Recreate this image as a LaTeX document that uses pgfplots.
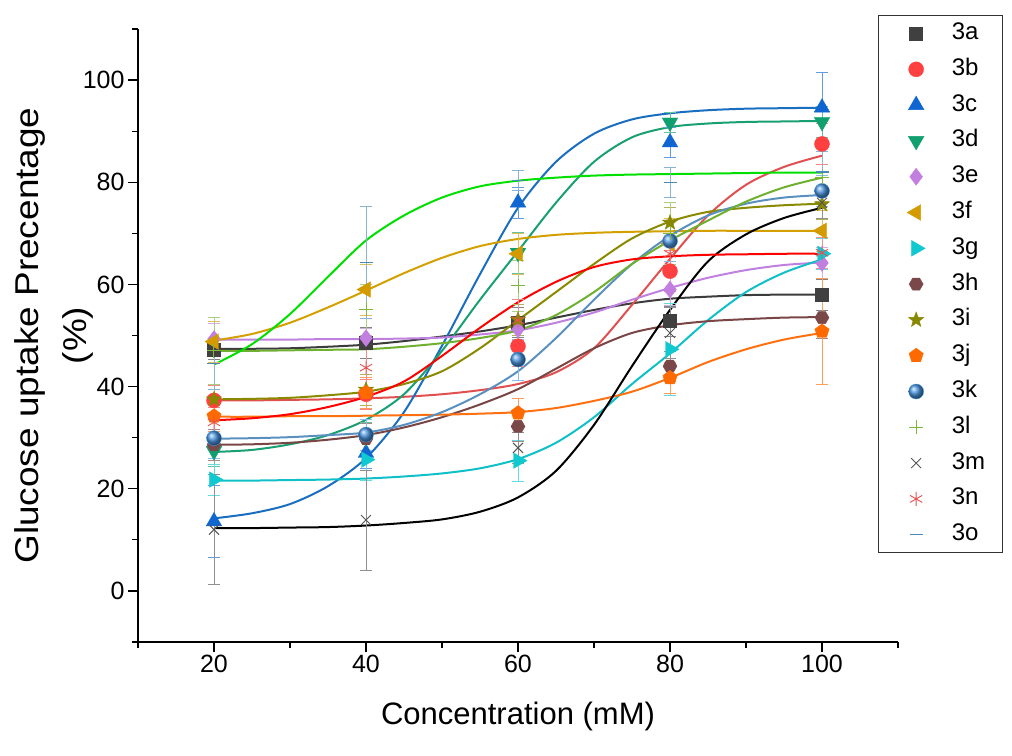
\documentclass[border=0pt]{standalone}
\usepackage{fontspec}
\setmainfont{Liberation Sans}
\newfontfamily\ylabfont[FakeStretch=1.12]{Liberation Sans}
\usepackage{pgfplots}
\usepackage{pgfplotstable}
\pgfplotsset{compat=1.18}
\usetikzlibrary{plotmarks}

\definecolor{cA}{HTML}{404040}\definecolor{cAl}{HTML}{3C3C3C}
\definecolor{cB}{HTML}{FF4040}\definecolor{cBl}{HTML}{E05050}
\definecolor{cC}{HTML}{0F66D0}\definecolor{cCl}{HTML}{1A6EC0}
\definecolor{cD}{HTML}{10A070}\definecolor{cDl}{HTML}{18A070}
\definecolor{cE}{HTML}{C27FE0}\definecolor{cEl}{HTML}{C080E0}
\definecolor{cF}{HTML}{D49B00}\definecolor{cFl}{HTML}{D4A000}
\definecolor{cG}{HTML}{10C8D0}\definecolor{cGl}{HTML}{10C0C8}
\definecolor{cH}{HTML}{7A4848}\definecolor{cHl}{HTML}{7A4545}
\definecolor{cI}{HTML}{888800}\definecolor{cIl}{HTML}{8A8A00}
\definecolor{cJ}{HTML}{FF6A00}\definecolor{cJl}{HTML}{FF7010}
\definecolor{cK}{HTML}{4A96E0}\definecolor{cKl}{HTML}{5A90C0}
\definecolor{cL}{HTML}{7DB83A}\definecolor{cLl}{HTML}{70B030}
\definecolor{cM}{HTML}{555555}\definecolor{cMl}{HTML}{000000}
\definecolor{cN}{HTML}{E85050}\definecolor{cNl}{HTML}{FF0000}
\definecolor{cO}{HTML}{4A8AB8}\definecolor{cOl}{HTML}{00E000}

\pgfdeclareplotmark{hexagon*}{%
  \pgfpathmoveto{\pgfpointpolar{0}{\pgfplotmarksize}}%
  \pgfpathlineto{\pgfpointpolar{60}{\pgfplotmarksize}}%
  \pgfpathlineto{\pgfpointpolar{120}{\pgfplotmarksize}}%
  \pgfpathlineto{\pgfpointpolar{180}{\pgfplotmarksize}}%
  \pgfpathlineto{\pgfpointpolar{240}{\pgfplotmarksize}}%
  \pgfpathlineto{\pgfpointpolar{300}{\pgfplotmarksize}}%
  \pgfpathclose\pgfusepathqfillstroke}
\pgfdeclareplotmark{fstar}{%
  \pgfpathmoveto{\pgfpointpolar{90}{\pgfplotmarksize}}%
  \pgfpathlineto{\pgfpointpolar{126}{0.42\pgfplotmarksize}}%
  \pgfpathlineto{\pgfpointpolar{162}{\pgfplotmarksize}}%
  \pgfpathlineto{\pgfpointpolar{198}{0.42\pgfplotmarksize}}%
  \pgfpathlineto{\pgfpointpolar{234}{\pgfplotmarksize}}%
  \pgfpathlineto{\pgfpointpolar{270}{0.42\pgfplotmarksize}}%
  \pgfpathlineto{\pgfpointpolar{306}{\pgfplotmarksize}}%
  \pgfpathlineto{\pgfpointpolar{342}{0.42\pgfplotmarksize}}%
  \pgfpathlineto{\pgfpointpolar{18}{\pgfplotmarksize}}%
  \pgfpathlineto{\pgfpointpolar{54}{0.42\pgfplotmarksize}}%
  \pgfpathclose\pgfusepathqfillstroke}

% fitted curves, read off the picture
\pgfplotstableread{
x a b c d e f g h i j k l m n o
20 47.4 37.3 14.2 27.2 49.2 49.0 21.6 28.6 37.5 34.1 29.8 47.0 12.3 33.4 44.3
25 47.4 37.3 15.2 27.6 49.2 50.3 21.6 28.7 37.6 34.1 29.9 47.0 12.3 33.8 48.3
30 47.5 37.4 17.0 28.7 49.2 52.5 21.7 29.0 37.8 34.2 30.1 47.1 12.4 34.6 54.2
35 47.8 37.5 20.5 30.5 49.3 55.5 21.8 29.6 38.3 34.2 30.5 47.2 12.5 36.0 61.5
40 48.2 37.7 26.0 33.5 49.3 58.8 22.0 30.5 39.0 34.3 31.0 47.3 12.8 38.0 68.6
45 48.9 38.0 35.0 38.5 49.4 62.2 22.4 32.0 40.5 34.4 32.5 47.8 13.3 41.0 73.5
50 49.8 38.5 48.0 47.0 49.6 65.2 23.0 34.0 43.0 34.5 35.0 48.5 14.0 46.0 77.0
55 50.8 39.3 62.0 57.0 50.2 67.5 24.0 36.5 47.5 34.7 38.5 49.5 15.5 51.5 79.2
60 52.0 40.5 75.0 66.5 51.0 68.9 25.8 39.5 53.0 35.0 43.0 51.0 18.3 56.5 80.3
65 53.5 42.8 84.0 76.0 52.5 69.7 29.0 43.5 58.5 35.8 49.5 54.0 23.5 60.5 80.9
70 55.0 47.5 89.5 84.0 54.5 70.1 34.0 47.5 64.0 37.2 57.0 58.5 32.5 63.4 81.3
75 56.3 56.0 92.3 88.8 57.0 70.3 40.5 50.5 69.0 39.0 64.0 64.0 44.0 64.9 81.5
80 57.2 65.0 93.5 90.8 59.3 70.4 46.5 52.0 72.3 41.7 69.5 68.6 55.0 65.5 81.6
85 57.6 73.5 94.1 91.5 61.3 70.5 53.0 52.8 74.2 44.8 73.5 72.5 64.5 65.8 81.7
90 57.9 79.5 94.4 91.8 62.8 70.5 58.5 53.2 75.0 47.3 75.8 76.2 69.8 65.9 81.8
95 58.0 83.0 94.5 91.9 63.8 70.5 62.3 53.5 75.5 49.2 77.0 79.0 73.0 66.0 81.9
100 58.0 85.2 94.6 92.0 64.3 70.5 64.9 53.6 75.8 50.5 77.5 80.9 75.0 66.0 81.9
}\curves

% measured points with error bars
\pgfplotstableread{
x a ea b eb c ec d ed e ee f ef g eg h eh i ei j ej k ek l el m em n en o eo
20 47.3 2 37.3 3 13.6 7 27.4 3 49.3 3 48.8 4 21.8 3 28.6 3 37.5 3 34.2 3 29.9 4 47.0 6.5 12.0 10.8 33.0 3 44.5 5
40 48.6 3 38.5 3 27.0 3 30.0 3 49.5 2 59.0 5 25.7 4 29.8 3 39.4 3 38.8 3 30.6 3 55.1 5 13.9 9.8 43.7 5 64.3 11
60 52.6 3 47.9 4 76.0 3 66.2 4 51.2 2 66.0 4 25.5 4 32.2 3 53.1 3 34.8 3 45.3 4 59.7 5 28.0 3 53.0 4 80.4 2
80 52.8 3 62.6 4 87.8 3 91.7 2 59.0 3 68.0 5 47.3 9 44.0 3 72.1 3 41.7 3 68.5 4 70.0 6 50.5 5 66.0 4 80.0 3
100 58.0 3 87.5 4 94.6 7 91.8 3 64.2 3 70.5 4 66.0 3 53.5 4 75.7 3 50.8 10.4 78.3 3 81.0 5 76.0 3 66.2 3 82.0 4
}\markers

\newcommand{\curve}[2]{\addplot[forget plot, color=#1, line width=2pt, smooth, mark=none] table[x=x,y=#2]{\curves};}
\newcommand{\ebar}[3]{\addplot[forget plot, draw=none, mark=none, error bars/.cd, y dir=both, y explicit,
   error bar style={draw=#1!65, line width=0.6pt}, error mark options={rotate=90, mark size=6pt, line width=0.6pt, draw=#1!65}]
   table[x=x,y=#2,y error=#3]{\markers};}

\begin{document}
\begin{tikzpicture}
\path[use as bounding box] (-138pt,-113pt) rectangle (874pt,642pt);
\begin{axis}[
  at={(0pt,0pt)}, anchor=south west,
  scale only axis, width=760pt, height=613pt,
  xmin=10, xmax=110, ymin=-10, ymax=110,
  axis x line*=bottom, axis y line*=left,
  axis line style={-, line width=1.5pt, black},
  xtick={20,40,60,80,100}, minor xtick={10,30,50,70,90,110},
  ytick={0,20,40,60,80,100}, minor ytick={-10,10,30,50,70,90,110},
  tick align=outside, major tick length=10pt, minor tick length=6pt,
  tick style={black, line width=1.3pt},
  /pgf/number format/assume math mode=true,
  ticklabel style={font=\fontsize{25}{30}\selectfont},
  xlabel={Concentration (mM)},
  ylabel={Glucose uptake Precentage\\(\%)},
  xlabel style={at={(axis description cs:0.5,-0.1207)}, anchor=center, font=\fontsize{31}{37}\selectfont},
  ylabel style={at={(axis description cs:-0.1105,0.5)}, anchor=center, rotate=0, align=center, font=\ylabfont\fontsize{33}{48}\selectfont},
  legend cell align=left,
  legend style={at={(axis description cs:0.9737,1.0228)}, anchor=north west,
    draw=black!80, line width=1pt, fill=white,
    font=\fontsize{24}{28}\selectfont,
    inner xsep=17pt, inner ysep=8pt, row sep=15.8pt, column sep=15pt,
    nodes={inner sep=0pt, text height=16pt, text depth=4pt}},
  legend image code/.code={\path (0pt,0pt) (40pt,0pt);
    \draw[#1] plot coordinates {(20pt,0pt)};},
]
\curve{cAl}{a}\curve{cBl}{b}\curve{cCl}{c}\curve{cDl}{d}\curve{cEl}{e}
\curve{cFl}{f}\curve{cGl}{g}\curve{cHl}{h}\curve{cIl}{i}\curve{cJl}{j}
\curve{cKl}{k}\curve{cLl}{l}\curve{cMl}{m}\curve{cNl}{n}\curve{cOl}{o}

\ebar{cA}{a}{ea}\ebar{cB}{b}{eb}\ebar{cC}{c}{ec}\ebar{cD}{d}{ed}\ebar{cE}{e}{ee}
\ebar{cF}{f}{ef}\ebar{cG}{g}{eg}\ebar{cH}{h}{eh}\ebar{cI}{i}{ei}\ebar{cJ}{j}{ej}
\ebar{cK}{k}{ek}\ebar{cL}{l}{el}\ebar{cM}{m}{em}\ebar{cN}{n}{en}\ebar{cO}{o}{eo}

\addplot[only marks, mark=square*, mark size=6.5pt, color=cA, line width=0.4pt] table[x=x,y=a]{\markers};
\addlegendentry{3a}
\addplot[only marks, mark=*, mark size=7.5pt, color=cB, line width=0.4pt] table[x=x,y=b]{\markers};
\addlegendentry{3b}
\addplot[only marks, mark=triangle*, mark size=9pt, color=cC, line width=0.4pt] table[x=x,y=c]{\markers};
\addlegendentry{3c}
\addplot[only marks, mark=triangle*, mark size=9pt, mark options={rotate=180}, color=cD, line width=0.4pt] table[x=x,y=d]{\markers};
\addlegendentry{3d}
\addplot[only marks, mark=diamond*, mark size=8.5pt, color=cE, line width=0.4pt] table[x=x,y=e]{\markers};
\addlegendentry{3e}
\addplot[only marks, mark=triangle*, mark size=9pt, mark options={rotate=90}, color=cF, line width=0.4pt] table[x=x,y=f]{\markers};
\addlegendentry{3f}
\addplot[only marks, mark=triangle*, mark size=9pt, mark options={rotate=-90}, color=cG, line width=0.4pt] table[x=x,y=g]{\markers};
\addlegendentry{3g}
\addplot[only marks, mark=hexagon*, mark size=7pt, color=cH, line width=0.4pt] table[x=x,y=h]{\markers};
\addlegendentry{3h}
\addplot[only marks, mark=fstar, mark size=8pt, color=cI, line width=0.4pt] table[x=x,y=i]{\markers};
\addlegendentry{3i}
\addplot[only marks, mark=pentagon*, mark size=7.5pt, color=cJ, line width=0.4pt] table[x=x,y=j]{\markers};
\addlegendentry{3j}
\addplot[only marks, mark=ball, mark size=7.5pt, ball color=cK, color=cK, line width=0.4pt] table[x=x,y=k]{\markers};
\addlegendentry{3k}
\addplot[only marks, mark=+, mark size=7pt, color=cL, line width=1pt] table[x=x,y=l]{\markers};
\addlegendentry{3l}
\addplot[only marks, mark=x, mark size=7pt, color=cM, line width=0.9pt] table[x=x,y=m]{\markers};
\addlegendentry{3m}
\addplot[only marks, mark=asterisk, mark size=7pt, color=cN, line width=0.9pt] table[x=x,y=n]{\markers};
\addlegendentry{3n}
\addplot[only marks, mark=-, mark size=6.5pt, color=cO, line width=1.3pt] table[x=x,y=o]{\markers};
\addlegendentry{3o}
\end{axis}
\end{tikzpicture}
\end{document}
